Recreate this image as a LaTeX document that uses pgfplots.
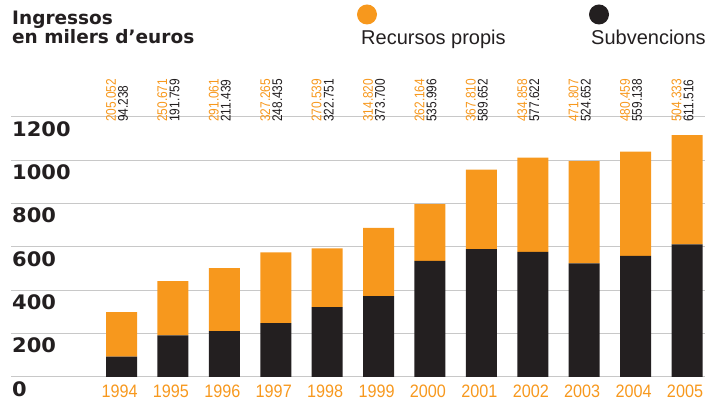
\documentclass[border=0pt]{standalone}
\usepackage{pgfplots}
\usepackage{pgfplotstable}
\pgfplotsset{compat=1.18}
\usepackage{fontspec}
\setmainfont{Liberation Sans}
\newfontfamily\heavy{DejaVu Sans}
\newfontfamily\heavywide{DejaVu Sans}[FakeStretch=1.05]
\newfontfamily\yearfont{Liberation Sans}[FakeStretch=0.9]
\newfontfamily\numfont{Liberation Sans}[FakeStretch=0.85]
\definecolor{orange1}{RGB}{247,152,29}
\definecolor{black1}{RGB}{35,31,32}
\definecolor{gridgray}{RGB}{200,200,200}
\pgfplotstableread{
x year sub rec
0 1994 94.238 205.052
1 1995 191.759 250.671
2 1996 211.439 291.061
3 1997 248.435 327.265
4 1998 322.751 270.539
5 1999 373.700 314.820
6 2000 535.996 262.164
7 2001 589.652 367.810
8 2002 577.622 434.858
9 2003 524.652 471.807
10 2004 559.138 480.459
11 2005 611.516 504.333
}\data
\begin{document}
\begin{tikzpicture}
\useasboundingbox (0pt,0pt) rectangle (705pt,401pt);
\pgfplotsset{common/.style={
  at={(11pt,24pt)}, anchor=south west, scale only axis,
  width=694pt, height=260pt,
  xmin=-2.15, xmax=11.35, ymin=0, ymax=1200, clip=false}}
\begin{axis}[common,
  ybar stacked, bar width=31pt,
  axis line style={draw=none}, major tick length=0pt,
  ytick={0,200,400,600,800,1000,1200},
  yticklabels={0,200,400,600,800,1000,1200},
  ymajorgrids, grid style={color=gridgray, line width=1pt},
  xtick={0,1,2,3,4,5,6,7,8,9,10,11},
  xticklabels={1994,1995,1996,1997,1998,1999,2000,2001,2002,2003,2004,2005},
  yticklabel style={anchor=north west, inner sep=0pt, xshift=1pt, yshift=-4pt,
    font=\heavywide\bfseries\fontsize{20}{20}\selectfont, text=black1},
  xticklabel style={anchor=north, inner sep=0pt, yshift=-8pt, xshift=-2pt,
    font=\yearfont\fontsize{18}{18}\selectfont, text=orange1},
  /pgf/number format/assume math mode=true,
]
\addplot[fill=black1, draw=none] table[x=x, y=sub]{\data};
\addplot[fill=orange1, draw=none] table[x=x, y=rec]{\data};
\end{axis}
\begin{axis}[common, hide axis]
\addplot[draw=none, mark=none, nodes near coords, point meta=explicit symbolic,
  every node near coord/.append style={anchor=west, rotate=90, inner sep=0pt,
    font=\numfont\fontsize{14}{14}\selectfont, text=orange1}]
  table[x expr=\thisrow{x}-0.205, y expr=1177, meta=rec]{\data};
\addplot[draw=none, mark=none, nodes near coords, point meta=explicit symbolic,
  every node near coord/.append style={anchor=west, rotate=90, inner sep=0pt,
    font=\numfont\fontsize{14}{14}\selectfont, text=black1}]
  table[x expr=\thisrow{x}+0.03, y expr=1177, meta=sub]{\data};
\end{axis}
\node[anchor=base west, inner sep=0pt, text=black1, font=\heavy\bfseries\fontsize{18.5}{18.5}\selectfont] at (12pt,376pt) {Ingressos};
\node[anchor=base west, inner sep=0pt, text=black1, font=\heavy\bfseries\fontsize{18.5}{18.5}\selectfont] at (12pt,357pt) {en milers d’euros};
\fill[orange1] (367pt,386.5pt) circle (10pt);
\node[anchor=base west, inner sep=0pt, text=black1, font=\fontsize{20}{20}\selectfont] at (361pt,356pt) {Recursos propis};
\fill[black1] (599pt,386.5pt) circle (10pt);
\node[anchor=base west, inner sep=0pt, text=black1, font=\fontsize{20}{20}\selectfont] at (591pt,356pt) {Subvencions};
\end{tikzpicture}
\end{document}
